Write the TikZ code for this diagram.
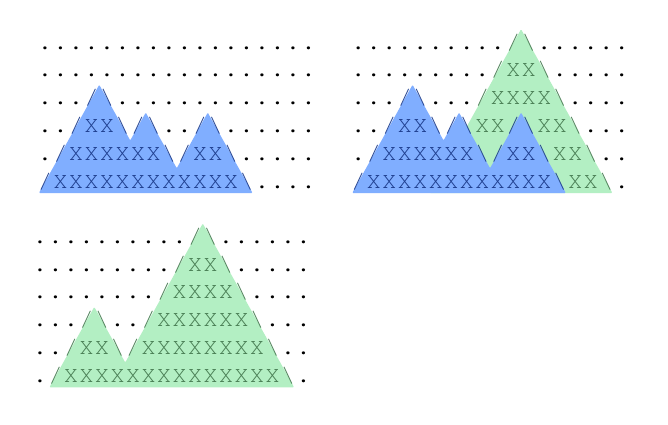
\documentclass[tikz,border=0pt]{standalone}
\usepackage[T1]{fontenc}
\usepackage{fontspec}
\definecolor{bfill}{HTML}{80AEFF}
\definecolor{gfill}{HTML}{B3EFC3}
\definecolor{btext}{HTML}{1F3F8F}
\definecolor{gtext}{HTML}{4A7F55}
\makeatletter
\newcounter{colidx}
\def\gl@B{\textcolor{btext}{X}}
\def\gl@G{\textcolor{gtext}{X}}
\def\gl@l{\textcolor{btext}{/}}
\def\gl@r{\textcolor{btext}{\symbol{92}}}
\def\gl@L{\textcolor{gtext}{/}}
\def\gl@R{\textcolor{gtext}{\symbol{92}}}
\expandafter\def\csname gl@.\endcsname{.}
\newcommand\putrow[4]{%
  \setcounter{colidx}{0}%
  \@tfor\ch:=#4\do{%
    \node[glyphnode] (#1-\the\value{colidx}) at ({#2+15.5*\the\value{colidx}},#3) {\csname gl@\ch\endcsname};%
    \stepcounter{colidx}}}
\makeatother
\def\W{15.5}
\def\H{27.8}
\tikzset{
  glyphnode/.style={anchor=base, inner sep=0pt, font=\fontencoding{T1}\fontfamily{pcr}\fontsize{23}{23}\selectfont},
  bluemtn/.style={fill=bfill, draw=none, rounded corners=1pt},
  greenmtn/.style={fill=gfill, draw=none, rounded corners=1pt}
}
\begin{document}
\begin{tikzpicture}[x=1pt, y=-1pt]
\fill[white] (0,0) rectangle (668,424);
\useasboundingbox (0,0) rectangle (668,424);
% ---------- panel 1 polygons ----------
\def\ex{37.25}\def\B{196}\def\bot{193}
\fill[bluemtn] ({\ex+1.67},\bot) -- ({\ex+4*\W},{\B-4*\H}) -- ({\ex+6*\W},{\B-2*\H})
  -- ({\ex+7*\W},{\B-3*\H}) -- ({\ex+9*\W},{\B-\H}) -- ({\ex+11*\W},{\B-3*\H})
  -- ({\ex+14*\W-1.67},\bot) -- cycle;
% ---------- panel 2 polygons ----------
\def\ex{350.55}
\fill[greenmtn] ({\ex+5*\W+1.67},\bot) -- ({\ex+11*\W},{\B-6*\H}) -- ({\ex+17*\W-1.67},\bot) -- cycle;
\fill[bluemtn] ({\ex+1.67},\bot) -- ({\ex+4*\W},{\B-4*\H}) -- ({\ex+6*\W},{\B-2*\H})
  -- ({\ex+7*\W},{\B-3*\H}) -- ({\ex+9*\W},{\B-\H}) -- ({\ex+11*\W},{\B-3*\H})
  -- ({\ex+14*\W-1.67},\bot) -- cycle;
% ---------- panel 3 polygons ----------
\def\ex{32.25}\def\B{390.3}\def\bot{387.3}
\fill[greenmtn] ({\ex+\W+1.67},\bot) -- ({\ex+4*\W},{\B-3*\H}) -- ({\ex+6*\W},{\B-\H})
  -- ({\ex+11*\W},{\B-6*\H}) -- ({\ex+17*\W-1.67},\bot) -- cycle;
% ---------- panel 1 text ----------
\putrow{a0}{45}{49}{..................}
\putrow{a1}{45}{76.8}{..................}
\putrow{a2}{45}{104.6}{...lr.............}
\putrow{a3}{45}{132.4}{..lBBrlr..lr......}
\putrow{a4}{45}{160.2}{.lBBBBBBrlBBr.....}
\putrow{a5}{45}{188}{lBBBBBBBBBBBBr....}
% ---------- panel 2 text ----------
\putrow{b0}{358.3}{49}{..........LR......}
\putrow{b1}{358.3}{76.8}{.........LGGR.....}
\putrow{b2}{358.3}{104.6}{...lr...LGGGGR....}
\putrow{b3}{358.3}{132.4}{..lBBrlrGGlrGGR...}
\putrow{b4}{358.3}{160.2}{.lBBBBBBrlBBrGGR..}
\putrow{b5}{358.3}{188}{lBBBBBBBBBBBBrGGR.}
% ---------- panel 3 text ----------
\putrow{c0}{40}{243.3}{..........LR......}
\putrow{c1}{40}{271.1}{.........LGGR.....}
\putrow{c2}{40}{298.9}{........LGGGGR....}
\putrow{c3}{40}{326.7}{...LR..LGGGGGGR...}
\putrow{c4}{40}{354.5}{..LGGRLGGGGGGGGR..}
\putrow{c5}{40}{382.3}{.LGGGGGGGGGGGGGGR.}
\end{tikzpicture}
\end{document}
